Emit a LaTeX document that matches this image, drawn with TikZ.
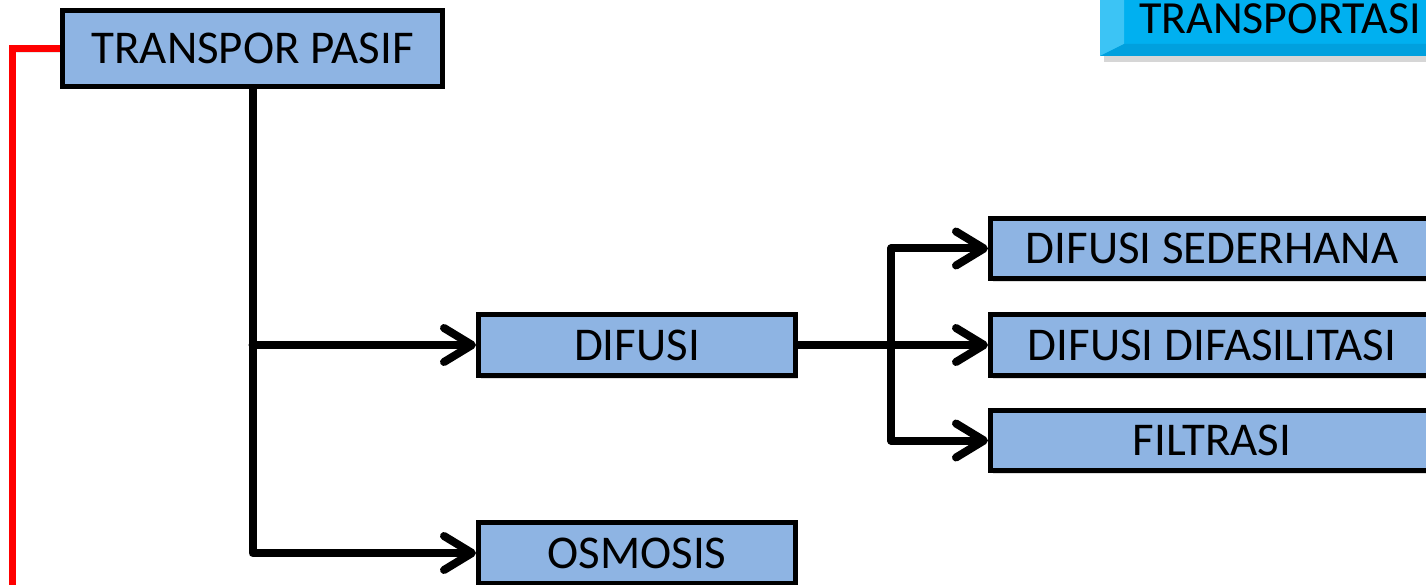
\documentclass[tikz,border=0pt]{standalone}
\usepackage{fontspec}
\setmainfont{Carlito}
\usetikzlibrary{arrows.meta,shadows}
\definecolor{boxblue}{RGB}{142,180,227}
\definecolor{titlecyan}{RGB}{0,176,240}
\definecolor{titlelight}{RGB}{60,196,245}
\definecolor{titledark}{RGB}{0,160,222}
\begin{document}
\begin{tikzpicture}[x=1pt,y=-1pt,
  box/.style={draw=black, line width=5pt, fill=boxblue, rectangle,
    inner sep=0pt, text height=30pt, text depth=0pt,
    font=\fontsize{47}{56}\selectfont,
    drop shadow={shadow xshift=2pt, shadow yshift=-3pt, opacity=0.22, fill=black!60}},
  lineshadow/.style={preaction={draw=black!45, opacity=0.25,
    transform canvas={xshift=1pt, yshift=-3pt}}},
  conn/.style={draw=black, line width=8pt, line join=round, line cap=round,
    -{Straight Barb[length=28pt, width=34pt, round]}, lineshadow},
  feed/.style={draw=red, line width=7pt, line join=miter,
    preaction={draw=black!45, opacity=0.2, transform canvas={xshift=1pt, yshift=-3pt}}}]
\path[use as bounding box, clip] (0,0) rectangle (1426,585);
\fill[white] (0,0) rectangle (1426,585);

% title tab, top right
\fill[black!35, opacity=0.45] (1104,-20) rectangle (1460,62);
\fill[titlecyan] (1100,-20) rectangle (1460,56);
\fill[titlelight] (1100,-20) -- (1124,-20) -- (1124,44) -- (1100,56) -- cycle;
\fill[titledark] (1100,56) -- (1124,44) -- (1460,44) -- (1460,56) -- cycle;
\node[inner sep=0pt, text height=29.5pt, text depth=0pt,
  font=\fontsize{46}{55}\selectfont] (title) at (1280,18.5) {TRANSPORTASI};

% connectors (drawn first, boxes sit on top)
\coordinate (fork) at (891,345);
\coordinate (redend) at (12.5,600);
\coordinate (tpw) at (62,49);
\draw[feed] (tpw) -| (redend);

% boxes
\node[box, minimum width=380pt, minimum height=76pt] (tp) at (252.5,48.5) {TRANSPOR PASIF};
\node[box, minimum width=317pt, minimum height=61pt] (dif) at (637,345) {DIFUSI};
\node[box, minimum width=317pt, minimum height=61pt] (osm) at (637,553) {OSMOSIS};
\node[box, minimum width=443pt, minimum height=60pt] (ds) at (1212,248.5) {DIFUSI SEDERHANA};
\node[box, minimum width=443pt, minimum height=61pt] (dd) at (1212,345) {DIFUSI DIFASILITASI};
\node[box, minimum width=443pt, minimum height=60pt] (fil) at (1212,440.5) {FILTRASI};

\draw[conn] (tp.south) |- (osm.west);
\draw[conn] (tp.south |- dif.west) -- (dif.west);
\draw[conn] (dif.east) -- (dd.west);
\draw[conn] (fork) |- (ds.west);
\draw[conn] (fork) |- (fil.west);
\end{tikzpicture}
\end{document}
